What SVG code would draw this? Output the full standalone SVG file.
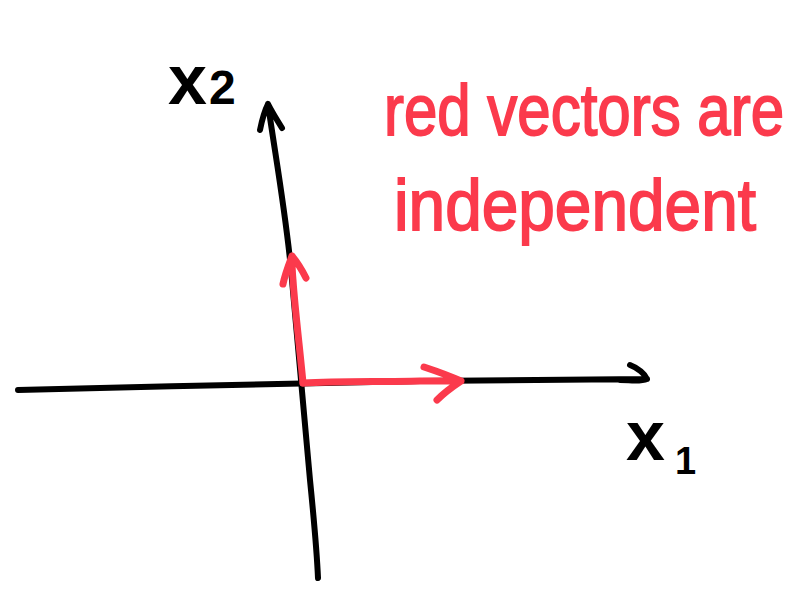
<svg xmlns="http://www.w3.org/2000/svg" width="812" height="605" viewBox="0 0 812 605">
<style>
.ax{fill:none;stroke:#000;stroke-width:6;stroke-linecap:round;stroke-linejoin:round}
.vec{fill:none;stroke:#fb3a4c;stroke-width:7;stroke-linecap:round;stroke-linejoin:round}
.lbl{font-family:"Liberation Sans","DejaVu Sans",sans-serif;fill:#000}
.note{font-family:"Liberation Sans","DejaVu Sans",sans-serif;fill:#fb3a4c;stroke:#fb3a4c;stroke-width:1.5;font-size:60px}
</style>
<rect width="812" height="605" fill="#fff"/>
<g id="axes">
  <path id="x1-axis" class="ax" d="M18,390 C150,387 300,383 420,381 C520,380 600,379 647,379 M630,365 C638,368 645,374 647,379 C640,382 630,380 620,380"/>
  <path id="x2-axis" class="ax" d="M268,104 C276,160 287,220 292,280 C298,350 304,420 310,480 C314,520 317,555 318,578 M260,130 C262,120 265,110 268,104 C272,112 277,120 282,128"/>
</g>
<g id="vectors">
  <path id="v-up" class="vec" d="M303,383 C300,350 295,310 293,280 C292,270 292,262 292,256 M283,284 C285,274 289,264 292,256 C297,262 302,270 306,278"/>
  <path id="v-right" class="vec" d="M303,383 C340,381 380,382 420,381 C440,381 452,381 461,381 M424,367 C436,371 450,376 461,381 C452,387 443,394 437,400"/>
</g>
<g id="label-x2"><text class="lbl" x="168" y="104" font-size="70" font-weight="bold">x<tspan font-size="48" dx="2">2</tspan></text></g>
<g id="label-x1"><text class="lbl" x="626" y="460" font-size="70" font-weight="bold">x<tspan font-size="38" dx="10" dy="14">1</tspan></text></g>
<g id="note" transform="scale(1,1.2)">
  <text class="note" x="384" y="112.5" textLength="400" lengthAdjust="spacingAndGlyphs">red vectors are</text>
  <text class="note" x="394" y="191.7" textLength="362" lengthAdjust="spacingAndGlyphs">independent</text>
</g>
</svg>
